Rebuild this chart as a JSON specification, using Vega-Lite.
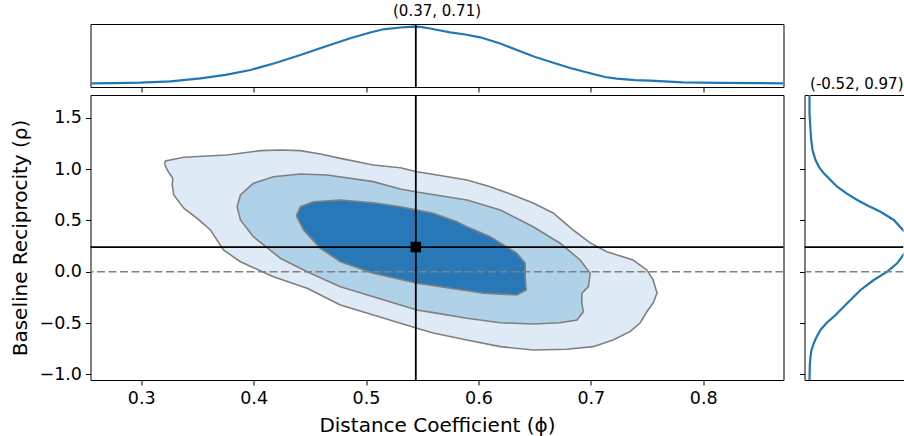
{
  "$schema": "https://vega.github.io/schema/vega-lite/v6.json",
  "padding": {"left": 9.5, "top": 3, "right": 0, "bottom": 0},
  "columns": 2,
  "align": "each",
  "bounds": "flush",
  "spacing": {"row": 8, "column": 21},
  "datasets": {
    "top": [
      {"phi": 0.2556, "d": 0.02}, {"phi": 0.2772, "d": 0.04}, {"phi": 0.2994, "d": 0.08},
      {"phi": 0.326, "d": 0.22}, {"phi": 0.3527, "d": 0.52}, {"phi": 0.375, "d": 0.87},
      {"phi": 0.3972, "d": 1.35}, {"phi": 0.4194, "d": 2.05}, {"phi": 0.4416, "d": 2.85},
      {"phi": 0.4638, "d": 3.7}, {"phi": 0.486, "d": 4.52}, {"phi": 0.5038, "d": 5.1},
      {"phi": 0.5154, "d": 5.42}, {"phi": 0.5305, "d": 5.6}, {"phi": 0.542, "d": 5.68},
      {"phi": 0.5483, "d": 5.67}, {"phi": 0.5572, "d": 5.5}, {"phi": 0.566, "d": 5.3},
      {"phi": 0.5749, "d": 5.12}, {"phi": 0.5883, "d": 4.9}, {"phi": 0.6016, "d": 4.62},
      {"phi": 0.6194, "d": 4.0}, {"phi": 0.6342, "d": 3.35}, {"phi": 0.6505, "d": 2.65},
      {"phi": 0.6638, "d": 2.18}, {"phi": 0.6816, "d": 1.55}, {"phi": 0.6994, "d": 1.02},
      {"phi": 0.7127, "d": 0.65}, {"phi": 0.7231, "d": 0.48}, {"phi": 0.7394, "d": 0.33},
      {"phi": 0.7527, "d": 0.28}, {"phi": 0.782, "d": 0.12}, {"phi": 0.815, "d": 0.06},
      {"phi": 0.8505, "d": 0.03}, {"phi": 0.871, "d": 0.02}
    ],
    "right": [
      {"rho": 1.721, "d": 0.05}, {"rho": 1.543, "d": 0.05}, {"rho": 1.38, "d": 0.15},
      {"rho": 1.283, "d": 0.22}, {"rho": 1.185, "d": 0.35}, {"rho": 1.088, "d": 0.65},
      {"rho": 1.01, "d": 1.05}, {"rho": 0.958, "d": 1.48}, {"rho": 0.893, "d": 2.15},
      {"rho": 0.828, "d": 2.82}, {"rho": 0.762, "d": 3.75}, {"rho": 0.698, "d": 4.82},
      {"rho": 0.64, "d": 5.95}, {"rho": 0.584, "d": 7.15}, {"rho": 0.504, "d": 8.48},
      {"rho": 0.39, "d": 9.55}, {"rho": 0.328, "d": 10.15}, {"rho": 0.28, "d": 10.45},
      {"rho": 0.231, "d": 10.25}, {"rho": 0.179, "d": 9.55}, {"rho": 0.082, "d": 8.82},
      {"rho": 0.0, "d": 7.82}, {"rho": -0.081, "d": 6.48}, {"rho": -0.178, "d": 5.15},
      {"rho": -0.308, "d": 3.82}, {"rho": -0.438, "d": 2.48}, {"rho": -0.5, "d": 1.75},
      {"rho": -0.568, "d": 1.15}, {"rho": -0.636, "d": 0.75}, {"rho": -0.697, "d": 0.48},
      {"rho": -0.763, "d": 0.25}, {"rho": -0.828, "d": 0.15}, {"rho": -0.909, "d": 0.08},
      {"rho": -1.055, "d": 0.05}
    ],
    "contours": [
      {"level": "outer", "i": 1, "phi": 0.3207, "rho": 1.056},
      {"level": "outer", "i": 2, "phi": 0.3216, "rho": 1.078},
      {"level": "outer", "i": 3, "phi": 0.3379, "rho": 1.114},
      {"level": "outer", "i": 4, "phi": 0.3587, "rho": 1.127},
      {"level": "outer", "i": 5, "phi": 0.3764, "rho": 1.137},
      {"level": "outer", "i": 6, "phi": 0.3883, "rho": 1.153},
      {"level": "outer", "i": 7, "phi": 0.406, "rho": 1.179},
      {"level": "outer", "i": 8, "phi": 0.4238, "rho": 1.185},
      {"level": "outer", "i": 9, "phi": 0.4416, "rho": 1.179},
      {"level": "outer", "i": 10, "phi": 0.4594, "rho": 1.146},
      {"level": "outer", "i": 11, "phi": 0.4772, "rho": 1.104},
      {"level": "outer", "i": 12, "phi": 0.5065, "rho": 1.039},
      {"level": "outer", "i": 13, "phi": 0.5305, "rho": 1.013},
      {"level": "outer", "i": 14, "phi": 0.5453, "rho": 0.974},
      {"level": "outer", "i": 15, "phi": 0.566, "rho": 0.937},
      {"level": "outer", "i": 16, "phi": 0.5898, "rho": 0.893},
      {"level": "outer", "i": 17, "phi": 0.6105, "rho": 0.828},
      {"level": "outer", "i": 18, "phi": 0.6283, "rho": 0.757},
      {"level": "outer", "i": 19, "phi": 0.6487, "rho": 0.669},
      {"level": "outer", "i": 20, "phi": 0.6665, "rho": 0.572},
      {"level": "outer", "i": 21, "phi": 0.6843, "rho": 0.406},
      {"level": "outer", "i": 22, "phi": 0.6994, "rho": 0.28},
      {"level": "outer", "i": 23, "phi": 0.7142, "rho": 0.195},
      {"level": "outer", "i": 24, "phi": 0.7376, "rho": 0.114},
      {"level": "outer", "i": 25, "phi": 0.7498, "rho": 0.017},
      {"level": "outer", "i": 26, "phi": 0.7554, "rho": -0.08},
      {"level": "outer", "i": 27, "phi": 0.7589, "rho": -0.207},
      {"level": "outer", "i": 28, "phi": 0.7554, "rho": -0.305},
      {"level": "outer", "i": 29, "phi": 0.7498, "rho": -0.39},
      {"level": "outer", "i": 30, "phi": 0.7438, "rho": -0.5},
      {"level": "outer", "i": 31, "phi": 0.7349, "rho": -0.584},
      {"level": "outer", "i": 32, "phi": 0.7198, "rho": -0.665},
      {"level": "outer", "i": 33, "phi": 0.702, "rho": -0.73},
      {"level": "outer", "i": 34, "phi": 0.6787, "rho": -0.756},
      {"level": "outer", "i": 35, "phi": 0.6487, "rho": -0.763},
      {"level": "outer", "i": 36, "phi": 0.6194, "rho": -0.73},
      {"level": "outer", "i": 37, "phi": 0.5898, "rho": -0.665},
      {"level": "outer", "i": 38, "phi": 0.5598, "rho": -0.597},
      {"level": "outer", "i": 39, "phi": 0.5453, "rho": -0.551},
      {"level": "outer", "i": 40, "phi": 0.5065, "rho": -0.422},
      {"level": "outer", "i": 41, "phi": 0.4772, "rho": -0.324},
      {"level": "outer", "i": 42, "phi": 0.4476, "rho": -0.162},
      {"level": "outer", "i": 43, "phi": 0.4176, "rho": -0.049},
      {"level": "outer", "i": 44, "phi": 0.3883, "rho": 0.097},
      {"level": "outer", "i": 45, "phi": 0.3732, "rho": 0.211},
      {"level": "outer", "i": 46, "phi": 0.3616, "rho": 0.406},
      {"level": "outer", "i": 47, "phi": 0.3498, "rho": 0.52},
      {"level": "outer", "i": 48, "phi": 0.3379, "rho": 0.618},
      {"level": "outer", "i": 49, "phi": 0.329, "rho": 0.747},
      {"level": "outer", "i": 50, "phi": 0.3276, "rho": 0.844},
      {"level": "outer", "i": 51, "phi": 0.3281, "rho": 0.91},
      {"level": "outer", "i": 52, "phi": 0.3231, "rho": 0.991},
      {"level": "outer", "i": 53, "phi": 0.3207, "rho": 1.056},
      {"level": "middle", "i": 1, "phi": 0.3853, "rho": 0.633},
      {"level": "middle", "i": 2, "phi": 0.3883, "rho": 0.747},
      {"level": "middle", "i": 3, "phi": 0.3998, "rho": 0.861},
      {"level": "middle", "i": 4, "phi": 0.4176, "rho": 0.925},
      {"level": "middle", "i": 5, "phi": 0.4416, "rho": 0.952},
      {"level": "middle", "i": 6, "phi": 0.4653, "rho": 0.942},
      {"level": "middle", "i": 7, "phi": 0.5065, "rho": 0.877},
      {"level": "middle", "i": 8, "phi": 0.5305, "rho": 0.806},
      {"level": "middle", "i": 9, "phi": 0.5453, "rho": 0.776},
      {"level": "middle", "i": 10, "phi": 0.5898, "rho": 0.698},
      {"level": "middle", "i": 11, "phi": 0.6194, "rho": 0.601},
      {"level": "middle", "i": 12, "phi": 0.6487, "rho": 0.438},
      {"level": "middle", "i": 13, "phi": 0.6727, "rho": 0.277},
      {"level": "middle", "i": 14, "phi": 0.6905, "rho": 0.114},
      {"level": "middle", "i": 15, "phi": 0.6994, "rho": -0.016},
      {"level": "middle", "i": 16, "phi": 0.6979, "rho": -0.146},
      {"level": "middle", "i": 17, "phi": 0.692, "rho": -0.21},
      {"level": "middle", "i": 18, "phi": 0.692, "rho": -0.308},
      {"level": "middle", "i": 19, "phi": 0.6934, "rho": -0.39},
      {"level": "middle", "i": 20, "phi": 0.6876, "rho": -0.47},
      {"level": "middle", "i": 21, "phi": 0.6727, "rho": -0.497},
      {"level": "middle", "i": 22, "phi": 0.6487, "rho": -0.509},
      {"level": "middle", "i": 23, "phi": 0.6194, "rho": -0.497},
      {"level": "middle", "i": 24, "phi": 0.5898, "rho": -0.454},
      {"level": "middle", "i": 25, "phi": 0.5598, "rho": -0.399},
      {"level": "middle", "i": 26, "phi": 0.5453, "rho": -0.373},
      {"level": "middle", "i": 27, "phi": 0.5065, "rho": -0.244},
      {"level": "middle", "i": 28, "phi": 0.4772, "rho": -0.146},
      {"level": "middle", "i": 29, "phi": 0.4476, "rho": 0.0},
      {"level": "middle", "i": 30, "phi": 0.4238, "rho": 0.131},
      {"level": "middle", "i": 31, "phi": 0.3998, "rho": 0.341},
      {"level": "middle", "i": 32, "phi": 0.3883, "rho": 0.504},
      {"level": "middle", "i": 33, "phi": 0.3853, "rho": 0.633},
      {"level": "inner", "i": 1, "phi": 0.438, "rho": 0.543},
      {"level": "inner", "i": 2, "phi": 0.4416, "rho": 0.633},
      {"level": "inner", "i": 3, "phi": 0.4532, "rho": 0.682},
      {"level": "inner", "i": 4, "phi": 0.4772, "rho": 0.698},
      {"level": "inner", "i": 5, "phi": 0.5065, "rho": 0.672},
      {"level": "inner", "i": 6, "phi": 0.5305, "rho": 0.633},
      {"level": "inner", "i": 7, "phi": 0.5453, "rho": 0.601},
      {"level": "inner", "i": 8, "phi": 0.5598, "rho": 0.569},
      {"level": "inner", "i": 9, "phi": 0.5809, "rho": 0.487},
      {"level": "inner", "i": 10, "phi": 0.5898, "rho": 0.438},
      {"level": "inner", "i": 11, "phi": 0.6105, "rho": 0.341},
      {"level": "inner", "i": 12, "phi": 0.6342, "rho": 0.179},
      {"level": "inner", "i": 13, "phi": 0.6416, "rho": 0.082},
      {"level": "inner", "i": 14, "phi": 0.6416, "rho": -0.049},
      {"level": "inner", "i": 15, "phi": 0.6425, "rho": -0.178},
      {"level": "inner", "i": 16, "phi": 0.6342, "rho": -0.227},
      {"level": "inner", "i": 17, "phi": 0.6045, "rho": -0.21},
      {"level": "inner", "i": 18, "phi": 0.5749, "rho": -0.162},
      {"level": "inner", "i": 19, "phi": 0.5453, "rho": -0.113},
      {"level": "inner", "i": 20, "phi": 0.5065, "rho": -0.016},
      {"level": "inner", "i": 21, "phi": 0.4772, "rho": 0.097},
      {"level": "inner", "i": 22, "phi": 0.4594, "rho": 0.228},
      {"level": "inner", "i": 23, "phi": 0.4445, "rho": 0.406},
      {"level": "inner", "i": 24, "phi": 0.438, "rho": 0.543}
    ],
    "point": [{"phi": 0.5443, "rho": 0.24}],
    "zero": [{"rho": 0}]
  },
  "concat": [
    {
      "width": 693,
      "height": 63,
      "title": {"text": "(0.37, 0.71)", "fontSize": 15, "offset": 3},
      "layer": [
        {
          "data": {"name": "top"},
          "mark": {"type": "line", "color": "#1f77b4", "strokeWidth": 2.2},
          "encoding": {
            "x": {"field": "phi", "type": "quantitative",
                  "scale": {"domain": [0.2549, 0.8714], "nice": false, "zero": false},
                  "axis": {"values": [0.3, 0.4, 0.5, 0.6, 0.7, 0.8], "labels": false, "title": null, "domain": false, "tickSize": 5}},
            "y": {"field": "d", "type": "quantitative",
                  "scale": {"domain": [-0.35, 5.95], "nice": false, "zero": false}, "axis": null}
          }
        },
        {
          "data": {"name": "point"},
          "mark": {"type": "rule", "color": "black", "strokeWidth": 1.8},
          "encoding": {"x": {"field": "phi", "type": "quantitative"}}
        }
      ]
    },
    {
      "width": 99,
      "height": 63,
      "view": {"stroke": null},
      "data": {"values": [{"a": 0}]},
      "mark": {"type": "point", "opacity": 0},
      "encoding": {}
    },
    {
      "width": 693,
      "height": 285,
      "layer": [
        {
          "data": {"name": "contours"},
          "transform": [{"filter": "datum.level == 'outer'"}],
          "mark": {"type": "line", "fill": "#deebf7", "stroke": "#808080", "strokeWidth": 1.6},
          "encoding": {
            "x": {"field": "phi", "type": "quantitative",
                  "scale": {"domain": [0.2549, 0.8714], "nice": false, "zero": false},
                  "axis": {"values": [0.3, 0.4, 0.5, 0.6, 0.7, 0.8], "format": ".1f", "title": "Distance Coefficient (ϕ)", "domain": false, "titlePadding": 8.7}},
            "y": {"field": "rho", "type": "quantitative",
                  "scale": {"domain": [-1.055, 1.721], "nice": false, "zero": false},
                  "axis": {"values": [-1, -0.5, 0, 0.5, 1, 1.5], "format": ".1f", "title": "Baseline Reciprocity (ρ)", "domain": false, "titlePadding": 9}},
            "order": {"field": "i", "type": "quantitative"}
          }
        },
        {
          "data": {"name": "contours"},
          "transform": [{"filter": "datum.level == 'middle'"}],
          "mark": {"type": "line", "fill": "#b0d2e8", "stroke": "#808080", "strokeWidth": 1.6},
          "encoding": {
            "x": {"field": "phi", "type": "quantitative"},
            "y": {"field": "rho", "type": "quantitative"},
            "order": {"field": "i", "type": "quantitative"}
          }
        },
        {
          "data": {"name": "contours"},
          "transform": [{"filter": "datum.level == 'inner'"}],
          "mark": {"type": "line", "fill": "#2878b8", "stroke": "#808080", "strokeWidth": 1.6},
          "encoding": {
            "x": {"field": "phi", "type": "quantitative"},
            "y": {"field": "rho", "type": "quantitative"},
            "order": {"field": "i", "type": "quantitative"}
          }
        },
        {
          "data": {"name": "zero"},
          "mark": {"type": "rule", "color": "#808080", "strokeWidth": 1.6, "strokeDash": [8, 3.5]},
          "encoding": {"y": {"field": "rho", "type": "quantitative"}}
        },
        {
          "data": {"name": "point"},
          "mark": {"type": "rule", "color": "black", "strokeWidth": 1.8},
          "encoding": {"y": {"field": "rho", "type": "quantitative"}}
        },
        {
          "data": {"name": "point"},
          "mark": {"type": "rule", "color": "black", "strokeWidth": 1.8},
          "encoding": {"x": {"field": "phi", "type": "quantitative"}}
        },
        {
          "data": {"name": "point"},
          "mark": {"type": "square", "size": 110, "color": "black", "filled": true, "opacity": 1},
          "encoding": {
            "x": {"field": "phi", "type": "quantitative"},
            "y": {"field": "rho", "type": "quantitative"}
          }
        }
      ]
    },
    {
      "width": 99,
      "height": 285,
      "view": {"stroke": null},
      "title": {"text": "(-0.52, 0.97)", "fontSize": 15, "offset": 3, "anchor": "end"},
      "layer": [
        {
          "data": {"name": "right"},
          "mark": {"type": "line", "color": "#1f77b4", "strokeWidth": 2.2, "clip": true},
          "encoding": {
            "x": {"field": "d", "type": "quantitative",
                  "scale": {"domain": [-0.45, 9.45], "nice": false, "zero": false},
                  "axis": {"orient": "top", "labels": false, "ticks": false, "title": null, "domain": true}},
            "y": {"field": "rho", "type": "quantitative",
                  "scale": {"domain": [-1.055, 1.721], "nice": false, "zero": false},
                  "axis": {"values": [-1, -0.5, 0, 0.5, 1, 1.5], "labels": false, "title": null, "domain": true}},
            "order": {"field": "rho", "type": "quantitative"}
          }
        },
        {
          "data": {"name": "right"},
          "mark": {"type": "point", "opacity": 0, "clip": true},
          "encoding": {
            "x": {"field": "d", "type": "quantitative",
                  "axis": {"orient": "bottom", "labels": false, "ticks": false, "title": null, "domain": true}},
            "y": {"field": "rho", "type": "quantitative",
                  "axis": {"values": [-1, -0.5, 0, 0.5, 1, 1.5], "labels": false, "title": null, "domain": true}}
          }
        },
        {
          "data": {"name": "zero"},
          "mark": {"type": "rule", "color": "#808080", "strokeWidth": 1.6, "strokeDash": [8, 3.5], "clip": true},
          "encoding": {"y": {"field": "rho", "type": "quantitative"}}
        },
        {
          "data": {"name": "point"},
          "mark": {"type": "rule", "color": "black", "strokeWidth": 1.8, "clip": true},
          "encoding": {"y": {"field": "rho", "type": "quantitative"}}
        }
      ],
      "resolve": {"axis": {"x": "independent"}}
    }
  ],
  "config": {
    "font": "DejaVu Sans",
    "view": {"stroke": "black", "strokeWidth": 1},
    "axis": {
      "labelFont": "DejaVu Sans", "titleFont": "DejaVu Sans",
      "labelFontSize": 17.5, "titleFontSize": 20, "titleFontWeight": "normal",
      "labelColor": "black", "titleColor": "black", "tickColor": "black", "domainColor": "black",
      "grid": false, "tickSize": 5, "labelPadding": 4, "tickWidth": 1, "domainWidth": 1
    },
    "title": {"font": "DejaVu Sans", "fontWeight": "normal", "color": "black", "fontSize": 15}
  }
}
